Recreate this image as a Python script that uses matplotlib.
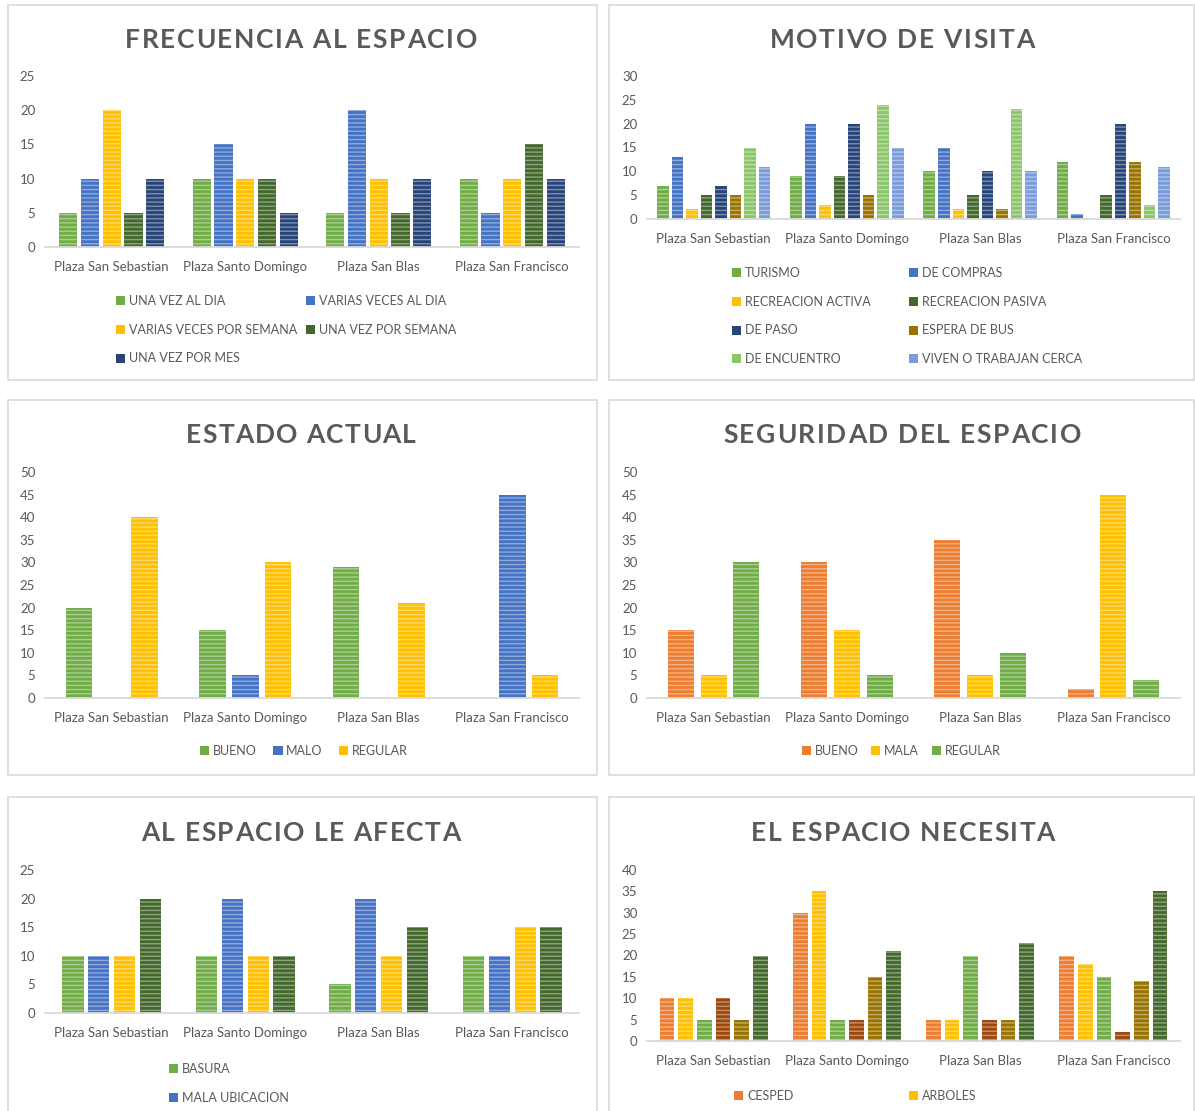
import matplotlib
matplotlib.use("Agg")
import matplotlib.pyplot as plt
from matplotlib.patches import Rectangle, Patch
from matplotlib.colors import to_rgb
from matplotlib.font_manager import FontProperties
import numpy as np

plt.rcParams['font.family'] = ['Lato', 'DejaVu Sans']
plt.rcParams['hatch.linewidth'] = 1.0

W, H = 1195, 1111
fig = plt.figure(figsize=(W / 100, H / 100), dpi=100)
renderer = fig.canvas.get_renderer()

plazas = ["Plaza San Sebastian", "Plaza Santo Domingo", "Plaza San Blas", "Plaza San Francisco"]

# frecuencia al espacio
frec_labels = ["UNA VEZ AL DIA", "VARIAS VECES AL DIA", "VARIAS VECES POR SEMANA",
               "UNA VEZ POR SEMANA", "UNA VEZ POR MES"]
frec_vals = [[5, 10, 5, 10], [10, 15, 20, 5], [20, 10, 10, 10], [5, 10, 5, 15], [10, 5, 10, 10]]
frec_colors = ["#70AD47", "#4472C4", "#FFC000", "#43682B", "#264478"]

# motivo de visita
mot_labels = ["TURISMO", "DE COMPRAS", "RECREACION ACTIVA", "RECREACION PASIVA",
              "DE PASO", "ESPERA DE BUS", "DE ENCUENTRO", "VIVEN O TRABAJAN CERCA"]
mot_vals = [[7, 9, 10, 12], [13, 20, 15, 1], [2, 3, 2, 0], [5, 9, 5, 5],
            [7, 20, 10, 20], [5, 5, 2, 12], [15, 24, 23, 3], [11, 15, 10, 11]]
mot_colors = ["#70AD47", "#4472C4", "#FFC000", "#43682B", "#264478", "#997300", "#8CC66A", "#7A9CDB"]

# estado actual
est_labels = ["BUENO", "MALO", "REGULAR"]
est_vals = [[20, 15, 29, 0], [0, 5, 0, 45], [40, 30, 21, 5]]
est_colors = ["#70AD47", "#4472C4", "#FFC000"]

# seguridad del espacio
seg_labels = ["BUENO", "MALA", "REGULAR"]
seg_vals = [[15, 30, 35, 2], [5, 15, 5, 45], [30, 5, 10, 4]]
seg_colors = ["#ED7D31", "#FFC000", "#70AD47"]

# al espacio le afecta (only two legend entries are visible)
afe_labels = ["BASURA", "MALA UBICACION"]
afe_vals = [[10, 10, 5, 10], [10, 20, 20, 10], [10, 10, 10, 15], [20, 10, 15, 15]]
afe_colors = ["#70AD47", "#4472C4", "#FFC000", "#43682B"]

# el espacio necesita (only two legend entries are visible)
nec_labels = ["CESPED", "ARBOLES"]
nec_vals = [[10, 30, 5, 20], [10, 35, 5, 18], [5, 5, 20, 15],
            [10, 5, 5, 2], [5, 15, 5, 14], [20, 21, 23, 35]]
nec_colors = ["#ED7D31", "#FFC000", "#70AD47", "#9E480E", "#997300", "#43682B"]

GRAY = "#595959"


def lighten(c, f):
    r, g, b = to_rgb(c)
    return (r + (1 - r) * f, g + (1 - g) * f, b + (1 - b) * f)


def px_axes(x0, x1, ytop, ybot):
    return fig.add_axes([x0 / W, 1 - ybot / H, (x1 - x0) / W, (ybot - ytop) / H])


def grouped(ax, series, colors, step, width, ymax, ystep):
    n = len(series)
    x = np.arange(len(plazas))
    for i, (vals, col) in enumerate(zip(series, colors)):
        off = (i - (n - 1) / 2) * step
        ax.bar(x + off, vals, width, color=col, edgecolor=lighten(col, 0.4),
               linewidth=0, hatch='----')
    ax.set_xlim(-0.5, len(plazas) - 0.5)
    ax.set_ylim(0, ymax)
    ax.set_yticks(range(0, ymax + 1, ystep))
    ax.set_xticks(x, plazas)
    for s in ['top', 'right', 'left']:
        ax.spines[s].set_visible(False)
    ax.spines['bottom'].set_color('#D9D9D9')
    ax.spines['bottom'].set_linewidth(1.3)
    ax.tick_params(length=0, labelsize=9.5, colors=GRAY)
    ax.tick_params(axis='x', pad=10)
    ax.tick_params(axis='y', pad=7)
    ax.set_facecolor('none')


def legend_at(labels, colors, x, y, ncol=1, loc='upper left', colsp=1.0):
    handles = [Patch(facecolor=c, edgecolor='none') for c in colors]
    fig.legend(handles, labels, loc=loc, bbox_to_anchor=(x / W, 1 - y / H),
               ncol=ncol, frameon=False, fontsize=9, labelcolor=GRAY,
               handlelength=0.75, handleheight=0.75, handletextpad=0.3,
               labelspacing=1.34, columnspacing=colsp, borderpad=0, borderaxespad=0)


def border(x0, x1, ytop, ybot):
    fig.add_artist(Rectangle((x0 / W, 1 - ybot / H), (x1 - x0) / W, (ybot - ytop) / H,
                             transform=fig.transFigure, fill=False,
                             edgecolor='#D9D9D9', linewidth=1.2))


title_prop = FontProperties(family=['Lato', 'DejaVu Sans'], weight='bold', size=19)


def text_w(s):
    return renderer.get_text_width_height_descent(s, title_prop, False)[0]


def title(text, xc, ybase, target):
    # letter-spaced title, stretched to the width seen in the chart
    bar = text_w('|')
    full = text_w(text)
    extra = (target - full) / (len(text) - 1)
    x0 = xc - target / 2
    for i, ch in enumerate(text):
        if ch == ' ':
            continue
        pos = text_w(text[:i] + '|') - bar if i else 0
        fig.text((x0 + pos + i * extra) / W, 1 - ybase / H, ch, fontproperties=title_prop,
                 ha='left', va='baseline', color=GRAY)


# panel frames
border(8, 597, 5, 380)
border(609, 1194, 5, 380)
border(8, 597, 400, 775)
border(609, 1194, 400, 775)
border(8, 597, 797, 1120)
border(609, 1194, 797, 1120)

# FRECUENCIA AL ESPACIO
title("FRECUENCIA AL ESPACIO", 301, 48, 352)
ax = px_axes(45, 579, 76, 247)
grouped(ax, frec_vals, frec_colors, 0.163, 0.135, 25, 5)
legend_at(frec_labels[0::2], frec_colors[0::2], 116, 295)
legend_at(frec_labels[1::2], frec_colors[1::2], 306, 295)

# MOTIVO DE VISITA
title("MOTIVO DE VISITA", 902, 48, 265)
ax = px_axes(647, 1180, 76, 219)
grouped(ax, mot_vals, mot_colors, 0.109, 0.087, 30, 5)
legend_at(mot_labels[0::2], mot_colors[0::2], 732, 267)
legend_at(mot_labels[1::2], mot_colors[1::2], 909, 267)

# ESTADO ACTUAL
title("ESTADO ACTUAL", 301, 443, 230)
ax = px_axes(45, 579, 472, 698)
grouped(ax, est_vals, est_colors, 0.245, 0.2, 50, 5)
legend_at(est_labels, est_colors, 304, 751, ncol=3, loc='center', colsp=1.3)

# SEGURIDAD DEL ESPACIO
title("SEGURIDAD DEL ESPACIO", 902, 443, 358)
ax = px_axes(647, 1180, 472, 698)
grouped(ax, seg_vals, seg_colors, 0.245, 0.195, 50, 5)
legend_at(seg_labels, seg_colors, 901, 751, ncol=3, loc='center', colsp=1.0)

# AL ESPACIO LE AFECTA
title("AL ESPACIO LE AFECTA", 301, 841, 319)
ax = px_axes(45, 579, 870, 1013)
grouped(ax, afe_vals, afe_colors, 0.194, 0.16, 25, 5)
legend_at(afe_labels, afe_colors, 169, 1063)

# EL ESPACIO NECESITA
title("EL ESPACIO NECESITA", 903, 841, 304)
ax = px_axes(647, 1180, 870, 1041)
grouped(ax, nec_vals, nec_colors, 0.14, 0.11, 40, 5)
legend_at(nec_labels[:1], nec_colors[:1], 734, 1090)
legend_at(nec_labels[1:], nec_colors[1:], 909, 1090)

fig.savefig("out.png", dpi=100)
